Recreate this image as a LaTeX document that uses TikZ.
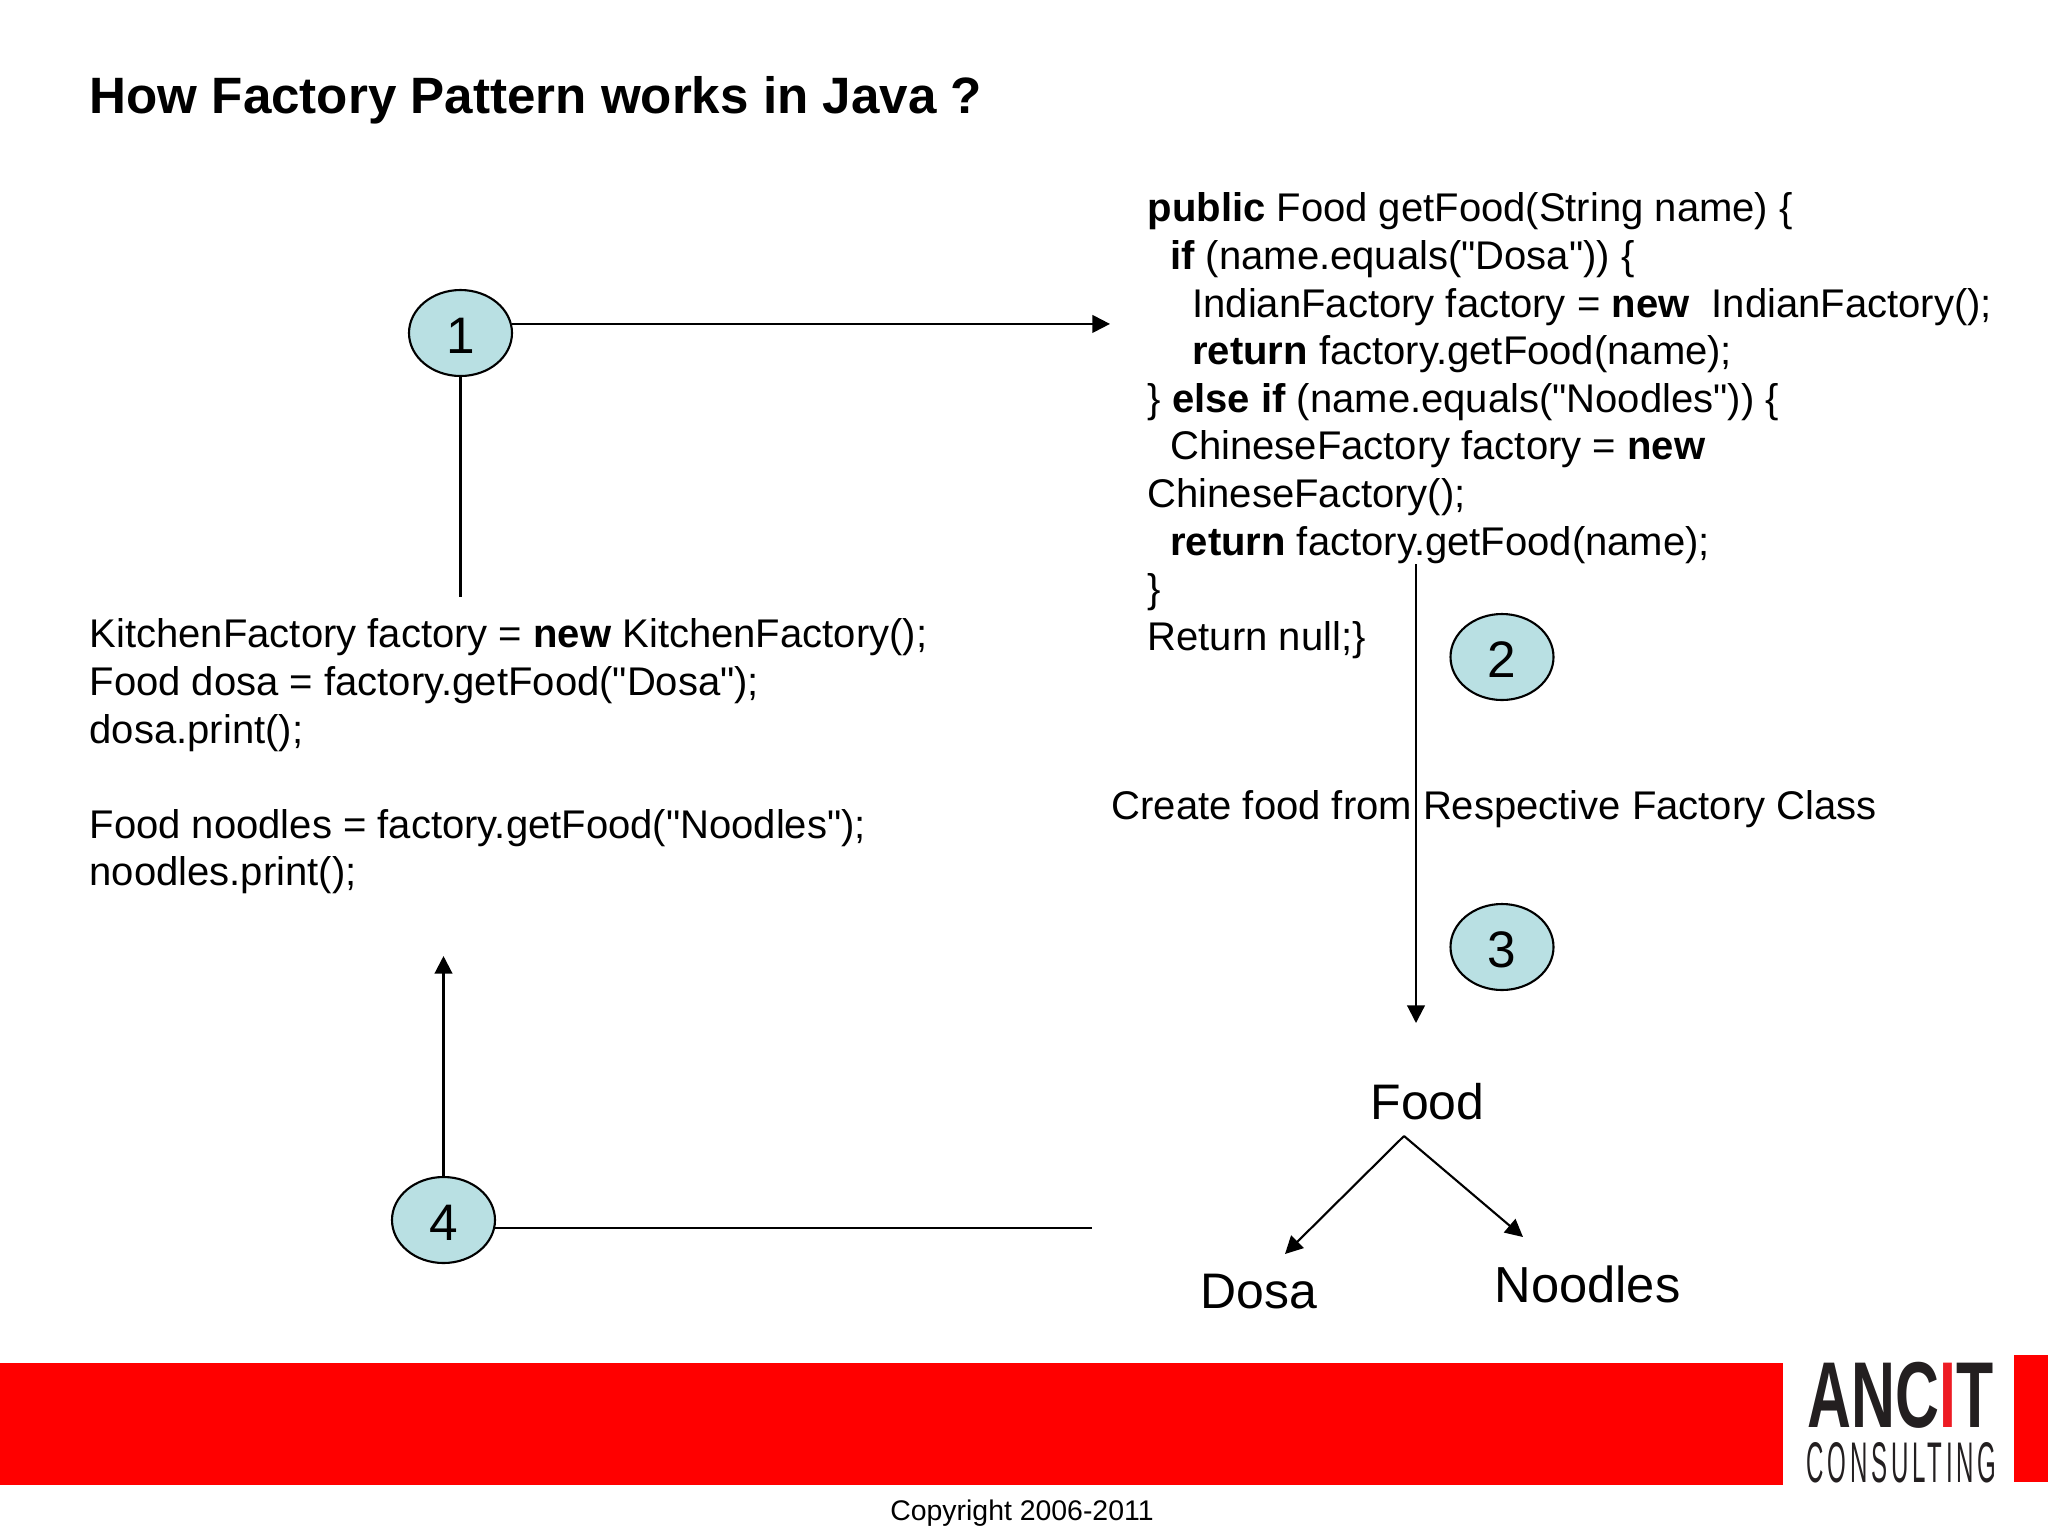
\documentclass[tikz,border=0pt]{standalone}
\usepackage{fontspec}
\usepackage{tikz}
\usetikzlibrary{arrows.meta}
\usetikzlibrary{shapes.geometric}
\setmainfont{Liberation Sans}
\newfontfamily\codefont{Liberation Sans}
\newfontfamily\logotop[FakeStretch=0.65]{Liberation Sans Bold}
\newfontfamily\logobot[FakeStretch=0.42,LetterSpace=6.5]{Liberation Sans}
\definecolor{bubble}{RGB}{185,224,227}
\definecolor{barred}{RGB}{255,0,0}
\definecolor{logored}{RGB}{237,28,36}
\definecolor{logoink}{RGB}{35,31,32}
\tikzstyle{n}=[draw,ellipse,fill=bubble,line width=0.6pt,minimum width=103*0.01cm,minimum height=86*0.01cm,inner sep=0,text height=11.8pt,text depth=0pt,font=\fontsize{14.6}{16}\selectfont]
\tikzstyle{code}=[anchor=north west,align=left,inner sep=0,font=\codefont\fontsize{11.38}{13.55}\selectfont]
\tikzstyle{lbl}=[anchor=base west,inner sep=0,font=\fontsize{14.2}{16}\selectfont]
\tikzstyle{cn}=[line width=0.6pt]
\tikzstyle{ar}=[line width=0.6pt,-{Triangle[length=5pt,width=5pt]}]
\newcommand{\ind}[1]{\hspace*{#1pt}}

\begin{document}
\begin{tikzpicture}[x=0.01cm,y=-0.01cm]

                        \useasboundingbox (0,0) rectangle (2048,1536);

                        % bars
                        \fill[barred] (0,1363) rectangle (1783,1485);
                        \fill[barred] (2014,1355) rectangle (2048,1482);

                        \node[anchor=base west,inner sep=0,font=\fontsize{14.54}{16}\selectfont\bfseries] (title) at (89,113) {How Factory Pattern works in Java ?};

                        \node[code] (main) at (89,618) {KitchenFactory factory = \textbf{new} KitchenFactory();\\
                        Food dosa = factory.getFood("Dosa");\\
                        dosa.print();\\[13.55pt]
                        Food noodles = factory.getFood("Noodles");\\
                        noodles.print();};

                        \node[code] (getfood) at (1147,192) {\textbf{public} Food getFood(String name) \{\\
                        \ind{6.4}\textbf{if} (name.equals("Dosa")) \{\\
                        \ind{12.7}IndianFactory factory = \textbf{new}\ \ IndianFactory();\\
                        \ind{12.7}\textbf{return} factory.getFood(name);\\
                        \} \textbf{else if} (name.equals("Noodles")) \{\\
                        \ind{6.4}ChineseFactory factory = \textbf{new}\\
                        ChineseFactory();\\
                        \ind{6.4}\textbf{return} factory.getFood(name);\\
                        \}\\
                        Return null;\}};

                        \node[anchor=base west,inner sep=0,font=\codefont\fontsize{11.38}{13.55}\selectfont] (create) at (1111,819) {Create food from Respective Factory Class};

                        \node[n] (c1) at (460.5,333) {1};
                        \node[n] (c2) at (1502,657) {2};
                        \node[n] (c3) at (1502,947) {3};
                        \node[n] (c4) at (443.5,1220) {4};

                        \node[lbl] (food) at (1370,1119) {Food};
                        \node[lbl] (dosa) at (1200,1308) {Dosa};
                        \node[lbl,font=\fontsize{14.4}{16}\selectfont] (noodles) at (1494,1302) {Noodles};

                        \coordinate (e1) at (1110,324);
                        \coordinate (e2) at (460.5,597);
                        \coordinate (t3) at (1416,564);
                        \coordinate (e3) at (1416,1023);
                        \coordinate (e4) at (443.5,956);
                        \coordinate (e5) at (1092,1228);
                        \coordinate (apex) at (1404,1136);
                        \coordinate (tipd) at (1285,1254);
                        \coordinate (tipn) at (1523,1237);

                        \draw[cn]
                        (c1.south) -- (e2)
                        (c4.-9) -- (c4.-9 -| e5)
                        ;

                        \draw[ar] (c1.10) -- (c1.10 -| e1);
                        \draw[ar] (t3) -- (e3);
                        \draw[ar] (c4.north) -- (e4);
                        \draw[ar] (apex) -- (tipd);
                        \draw[ar] (apex) -- (tipn);

                        % logo
                        \node[anchor=base west,inner sep=0,font=\logotop\fontsize{26.6}{28}\selectfont,text=logoink] (logoa) at (1807,1427) {ANC\textcolor{logored}{I}T};
                        \node[anchor=base west,inner sep=0,font=\logobot\fontsize{16.3}{18}\selectfont,text=logoink] (logob) at (1806,1482) {CONSULTING};

                        \node[anchor=base,inner sep=0,font=\fontsize{8.08}{10}\selectfont] (copy) at (1022,1520) {Copyright 2006-2011};

    \end{tikzpicture}
\end{document}
